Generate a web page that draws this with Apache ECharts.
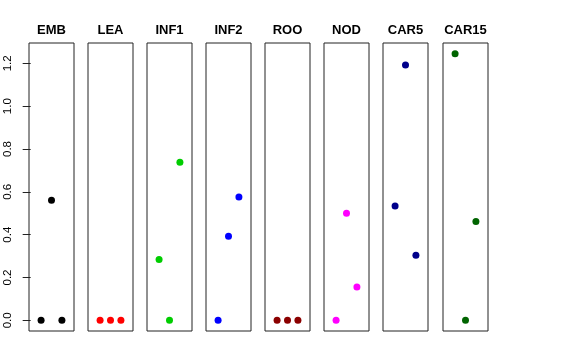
<!DOCTYPE html>
<html><head><meta charset="utf-8">
<script src="https://cdn.jsdelivr.net/npm/echarts@6/dist/echarts.min.js"></script>
<style>html,body{margin:0;padding:0;background:#fff}#c{width:576px;height:360px}</style>
</head><body><div id="c"></div>
<script>
const panels = ['EMB','LEA','INF1','INF2','ROO','NOD','CAR5','CAR15'];
const colors = ['#000000','#FF0000','#00CD00','#0000FF','#8B0000','#FF00FF','#00008B','#006400'];
const xPositions = [1, 2, 3];
const values = [
  [0, 0.561, 0],
  [0, 0, 0],
  [0.284, 0, 0.738],
  [0, 0.393, 0.576],
  [0, 0, 0],
  [0, 0.5, 0.156],
  [0.534, 1.192, 0.304],
  [1.245, 0, 0.461]
];
const yTicks = [0, 0.2, 0.4, 0.6, 0.8, 1.0, 1.2];

const lefts = [29, 88, 147, 206, 265, 324, 383, 443];
const yMax = 1.245, yPad = yMax * 0.04;
const grid = [], xAxis = [], yAxis = [], series = [];
panels.forEach((name, i) => {
  grid.push({left: lefts[i], top: 43, width: 45, height: 288, show: true,
    borderColor: '#222', borderWidth: 1, backgroundColor: 'transparent', containLabel: false});
  xAxis.push({gridIndex: i, type: 'value', min: -0.16, max: 4.16, position: 'top',
    name: name, nameLocation: 'middle', nameGap: 6,
    nameTextStyle: {fontFamily: 'Liberation Sans, Arial', fontWeight: 'bold', fontSize: 13, color: '#000', verticalAlign: 'bottom'},
    axisLine: {show: false}, axisTick: {show: false}, axisLabel: {show: false}, splitLine: {show: false}});
  const first = i === 0;
  yAxis.push({gridIndex: i, type: 'value', min: -yPad, max: yMax + yPad,
    axisLine: {show: false},
    axisTick: {show: first, length: 8, customValues: yTicks, lineStyle: {color: '#222'}},
    axisLabel: {show: first, customValues: yTicks, rotate: 90, margin: 15,
      fontFamily: 'Liberation Sans, Arial', fontSize: 11.5, color: '#000',
      formatter: v => v.toFixed(1)},
    splitLine: {show: false}});
  series.push({type: 'scatter', xAxisIndex: i, yAxisIndex: i, symbolSize: 7,
    itemStyle: {color: colors[i], opacity: 1},
    data: xPositions.map((x, j) => [x, values[i][j]])});
});
const chart = echarts.init(document.getElementById('c'), null, {renderer: 'canvas'});
chart.setOption({animation: false, backgroundColor: '#fff', grid, xAxis, yAxis, series});
</script></body></html>
